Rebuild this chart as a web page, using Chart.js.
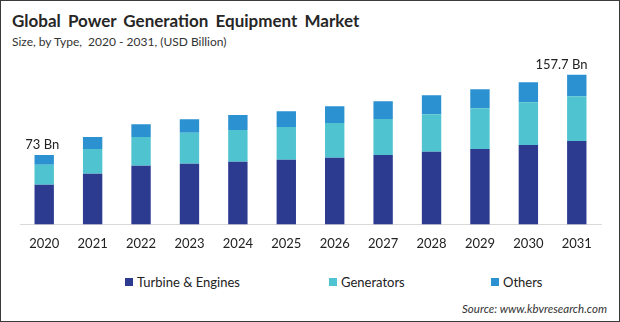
<!DOCTYPE html>
<html>
<head>
<meta charset="utf-8">
<script src="https://cdn.jsdelivr.net/npm/chart.js@4.4.1/dist/chart.umd.min.js"></script>
<style>
    html, body { margin: 0; padding: 0; background: #fff; }
    .frame {
        position: relative;
        width: 620px;
        height: 322px;
        box-sizing: border-box;
        border: 1px solid #3a3a3a;
        overflow: hidden;
        font-family: Lato, "Open Sans", sans-serif;
        color: #222;
    }
    .title {
        position: absolute; left: 11px; top: 9px;
        font-size: 17px; font-weight: bold; word-spacing: 3px; color: #262626;
    }
    .subtitle {
        position: absolute; left: 11px; top: 33px;
        font-size: 12px; color: #333;
    }
    #chart-box { position: absolute; left: 0; top: 0; width: 618px; height: 255px; }
    .legend {
        position: absolute; top: 273px; left: 0; width: 618px; height: 18px;
        font-size: 13px; color: #222;
    }
    .legend-item { position: absolute; top: 0; display: flex; align-items: center; }
    .legend-box { width: 8px; height: 8px; margin-right: 4px; }
    .source {
        position: absolute; right: 12px; top: 301px;
        font-size: 11.5px; font-style: italic; color: #333;
    }
</style>
</head>
<body>
<div class="frame">
    <div class="title">Global Power Generation Equipment Market</div>
    <div class="subtitle">Size, by Type,&nbsp; 2020 - 2031, (USD Billion)</div>
    <div id="chart-box"><canvas id="powerChart"></canvas></div>
    <div class="legend" id="legend"></div>
    <div class="source">Source: www.kbvresearch.com</div>
</div>
<script>
// Values (USD Billion)
const years = ['2020', '2021', '2022', '2023', '2024', '2025', '2026', '2027', '2028', '2029', '2030', '2031'];
const turbineEngines = [41.8, 53.3, 61.7, 63.8, 65.9, 68.0, 70.1, 73.2, 76.4, 79.5, 83.7, 87.9];
const generators = [20.9, 26.2, 30.3, 32.7, 33.5, 34.5, 36.6, 37.7, 39.7, 42.9, 45.0, 47.1];
const others = [10.3, 12.6, 13.6, 14.3, 15.7, 16.7, 17.8, 18.8, 19.9, 19.9, 20.9, 22.7];
const totalLabels = ['73 Bn', null, null, null, null, null, null, null, null, null, null, '157.7 Bn'];

const seriesNames = ['Turbine & Engines', 'Generators', 'Others'];
const seriesColors = ['#2c3a8f', '#4fc3cf', '#2b91d0'];
const legendLeft = [124, 328, 490]; // legend item positions

// Draws the total labels above the first and last bar
const totalsPlugin = {
    id: 'totals',
    afterDatasetsDraw(chart) {
        const ctx = chart.ctx;
        const meta = chart.getDatasetMeta(chart.data.datasets.length - 1);
        ctx.save();
        ctx.font = '13px Lato, "Open Sans", sans-serif';
        ctx.fillStyle = '#222';
        ctx.textBaseline = 'alphabetic';
        totalLabels.forEach((label, i) => {
            if (!label) return;
            const bar = meta.data[i];
            if (i === totalLabels.length - 1) {
                ctx.textAlign = 'right';
                ctx.fillText(label, bar.x + bar.width / 2 + 1, bar.y - 6);
            } else {
                ctx.textAlign = 'center';
                ctx.fillText(label, bar.x - 2, bar.y - 6);
            }
        });
        ctx.restore();
    }
};

const datasetValues = [turbineEngines, generators, others];

const ctx = document.getElementById('powerChart').getContext('2d');
const powerChart = new Chart(ctx, {
    type: 'bar',
    data: {
        labels: years,
        datasets: datasetValues.map((vals, i) => ({
            label: seriesNames[i],
            data: vals,
            backgroundColor: seriesColors[i],
            borderWidth: 0,
            categoryPercentage: 1,
            barPercentage: 0.4
        }))
    },
    options: {
        responsive: true,
        maintainAspectRatio: false,
        animation: false,
        layout: { padding: { top: 62, left: 19, right: 18, bottom: 0 } },
        plugins: {
            legend: { display: false },
            tooltip: { enabled: false }
        },
        scales: {
            x: {
                stacked: true,
                grid: { display: false },
                border: { display: true, color: '#d9d9d9', width: 1 },
                ticks: {
                    color: '#222',
                    padding: 4,
                    font: { family: 'Lato, "Open Sans", sans-serif', size: 13 }
                }
            },
            y: {
                stacked: true,
                display: false,
                min: 0,
                max: 170
            }
        }
    },
    plugins: [totalsPlugin]
});

// HTML legend built from the series
const legendDiv = document.getElementById('legend');
seriesNames.forEach((name, i) => {
    const item = document.createElement('div');
    item.className = 'legend-item';
    item.style.left = legendLeft[i] + 'px';
    const box = document.createElement('span');
    box.className = 'legend-box';
    box.style.background = seriesColors[i];
    const text = document.createElement('span');
    text.textContent = name;
    item.appendChild(box);
    item.appendChild(text);
    legendDiv.appendChild(item);
});
</script>
</body>
</html>
